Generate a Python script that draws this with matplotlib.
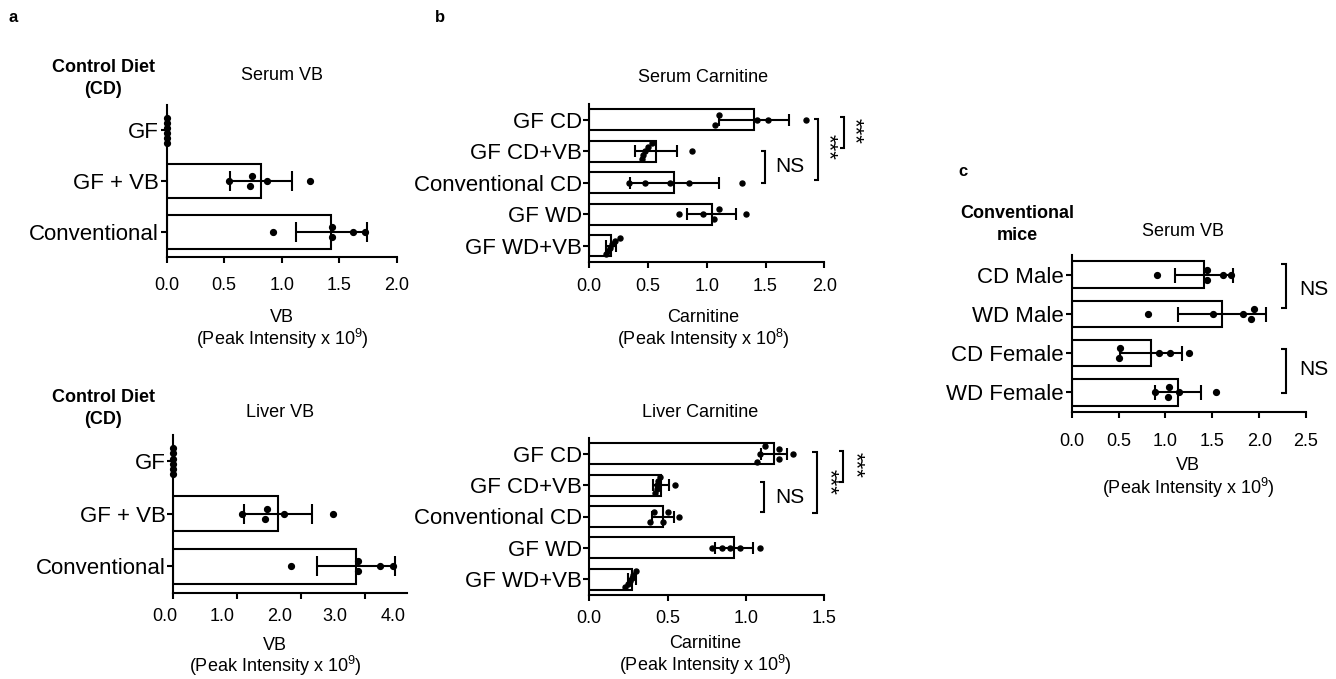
import matplotlib
matplotlib.use("Agg")
import matplotlib.pyplot as plt
import numpy as np
from matplotlib import transforms

plt.rcParams['font.family'] = ['Liberation Sans', 'DejaVu Sans']
plt.rcParams['mathtext.fontset'] = 'custom'
plt.rcParams['mathtext.rm'] = 'Liberation Sans'
plt.rcParams['mathtext.it'] = 'Liberation Sans:italic'
plt.rcParams['mathtext.bf'] = 'Liberation Sans:bold'

W, H, DPI = 1336, 679, 100

# ------------------------------------------------------------------ data
a_cats = ["GF", "GF + VB", "Conventional"]
serum_vb_points = [[0, 0, 0, 0, 0, 0],
                   [0.54, 0.72, 0.74, 0.87, 1.25],
                   [0.92, 1.44, 1.44, 1.62, 1.72]]
serum_vb_mean = [0, 0.82, 1.43]
serum_vb_sd = [0, 0.27, 0.31]

liver_vb_points = [[0, 0, 0, 0, 0, 0],
                   [1.07, 1.43, 1.47, 1.73, 2.50],
                   [1.84, 2.89, 2.89, 3.24, 3.44]]
liver_vb_mean = [0, 1.64, 2.85]
liver_vb_sd = [0, 0.53, 0.61]

b_cats = ["GF CD", "GF CD+VB", "Conventional CD", "GF WD", "GF WD+VB"]
serum_carn_points = [[1.07, 1.10, 1.43, 1.52, 1.84],
                     [0.45, 0.46, 0.47, 0.50, 0.53, 0.87],
                     [0.34, 0.47, 0.69, 0.85, 1.30],
                     [0.76, 0.97, 1.06, 1.10, 1.33],
                     [0.14, 0.16, 0.18, 0.19, 0.22, 0.26]]
serum_carn_mean = [1.40, 0.565, 0.725, 1.04, 0.185]
serum_carn_sd = [0.30, 0.18, 0.38, 0.21, 0.045]

liver_carn_points = [[1.07, 1.09, 1.12, 1.21, 1.21, 1.30],
                     [0.42, 0.43, 0.43, 0.44, 0.45, 0.55],
                     [0.39, 0.41, 0.47, 0.50, 0.57],
                     [0.78, 0.845, 0.90, 0.965, 1.09],
                     [0.23, 0.25, 0.26, 0.27, 0.28, 0.30]]
liver_carn_mean = [1.18, 0.456, 0.472, 0.923, 0.27]
liver_carn_sd = [0.085, 0.05, 0.07, 0.12, 0.025]

c_cats = ["CD Male", "WD Male", "CD Female", "WD Female"]
c_vb_points = [[0.905, 1.44, 1.44, 1.615, 1.70],
               [0.81, 1.51, 1.83, 1.91, 1.94],
               [0.51, 0.52, 0.93, 1.05, 1.25],
               [0.89, 1.03, 1.04, 1.14, 1.54]]
c_vb_mean = [1.41, 1.60, 0.85, 1.13]
c_vb_sd = [0.31, 0.47, 0.33, 0.245]

ticks_a_top = [0.0, 0.5, 1.0, 1.5, 2.0]
ticks_a_bot = [0, 1, 2, 3]
ticklabels_a_bot = ["0.0", "1.0", "2.0", "3.0", "4.0"]
ticks_b_top = [0.0, 0.5, 1.0, 1.5, 2.0]
ticks_b_bot = [0.0, 0.5, 1.0, 1.5]
ticks_c = [0.0, 0.5, 1.0, 1.5, 2.0, 2.5]

# ------------------------------------------------------------------ figure
fig = plt.figure(figsize=(W / DPI, H / DPI), dpi=DPI)


def axes_px(x0, y0, x1, y1):
    return fig.add_axes([x0 / W, 1 - y1 / H, (x1 - x0) / W, (y1 - y0) / H])


def ftext(x, y, s, **kw):
    kw.setdefault('ha', 'center')
    kw.setdefault('va', 'center')
    fig.text(x / W, 1 - y / H, s, **kw)


def swarm(vals, px_x, px_row, bar_px, step=10.0, thresh=6.0):
    vals = np.asarray(vals, float)
    order = np.argsort(vals, kind='stable')
    offs = np.zeros(len(vals))
    clusters = []
    cur = [order[0]]
    for k in order[1:]:
        if (vals[k] - vals[cur[-1]]) * px_x <= thresh:
            cur.append(k)
        else:
            clusters.append(cur)
            cur = [k]
    clusters.append(cur)
    maxspan = 0.75 * bar_px
    for cl in clusters:
        n = len(cl)
        if n == 1:
            continue
        s = min(step, maxspan / (n - 1))
        for i, k in enumerate(cl):
            offs[k] = ((n - 1) / 2 - i) * s / px_row
    return offs


def draw_panel(ax, cats, points, means, sds, xlim, capsize, ms, lw=1.5,
               bar_h=0.67):
    n = len(cats)
    y = np.arange(n)
    ax.barh(y, means, height=bar_h, color='white', edgecolor='black',
            linewidth=lw, zorder=2)
    ax.set_xlim(*xlim)
    ax.set_ylim(n - 0.5, -0.5)
    for i in range(n):
        if sds[i] > 0:
            ax.errorbar([means[i]], [y[i]], xerr=[sds[i]], fmt='none',
                        ecolor='black', elinewidth=lw, capsize=capsize,
                        capthick=lw, zorder=3)
    bbox = ax.get_position()
    wpx = bbox.width * W
    hpx = bbox.height * H
    px_x = wpx / (xlim[1] - xlim[0])
    px_row = hpx / n
    for i in range(n):
        offs = swarm(points[i], px_x, px_row, bar_h * px_row)
        ax.plot(points[i], y[i] + offs, 'o', color='black', ms=ms,
                mec='black', zorder=4, clip_on=False)
    ax.set_yticks(y)
    ax.set_yticklabels(cats, fontsize=16)
    for sp in ['top', 'right']:
        ax.spines[sp].set_visible(False)
    for sp in ['left', 'bottom']:
        ax.spines[sp].set_linewidth(lw)
    ax.tick_params(axis='both', direction='out', length=4.5, width=lw,
                   colors='black')
    ax.tick_params(axis='y', pad=1)
    ax.set_facecolor('none')


def bracket(ax, x, xt, y0, y1, lw=1.5):
    ax.plot([xt, x, x, xt], [y0, y0, y1, y1], color='black', lw=lw,
            clip_on=False, solid_capstyle='butt', solid_joinstyle='miter')


# ---- panel a top
ax1 = axes_px(166.7, 105, 396.7, 257)
draw_panel(ax1, a_cats, serum_vb_points, serum_vb_mean, serum_vb_sd,
           (0, 2.0), capsize=7, ms=4.2)
ax1.set_xticks(ticks_a_top)
ax1.set_xticklabels([f"{t:.1f}" for t in ticks_a_top], fontsize=13)
ax1.tick_params(axis='x', pad=10)

# ---- panel a bottom
ax2 = axes_px(173.3, 435, 406.7, 592.5)
draw_panel(ax2, a_cats, liver_vb_points, liver_vb_mean, liver_vb_sd,
           (0, 3.65), capsize=7, ms=4.2)
ax2.set_xticks(ticks_a_bot)
ax2.set_xticklabels([])
# tick labels sit where the original figure placed them (offset from ticks)
lab_pos = [-0.13, 0.756, 1.67, 2.53, 3.43]
tr = ax2.get_xaxis_transform() + transforms.ScaledTranslation(0, -24.2 / DPI, fig.dpi_scale_trans)
for xp, s in zip(lab_pos, ticklabels_a_bot):
    ax2.text(xp, 0, s, transform=tr, ha='center', va='center', fontsize=13,
             clip_on=False)

# ---- panel b top
ax3 = axes_px(589.3, 104, 824.3, 261.7)
draw_panel(ax3, b_cats, serum_carn_points, serum_carn_mean, serum_carn_sd,
           (0, 2.0), capsize=4, ms=3.6)
ax3.set_xticks(ticks_b_top)
ax3.set_xticklabels([f"{t:.1f}" for t in ticks_b_top], fontsize=13)
ax3.tick_params(axis='x', pad=7)
bracket(ax3, 1.495, 1.459, 1.0, 1.99)
ax3.text(1.58, 1.47, "NS", fontsize=15, ha='left', va='center', clip_on=False)
bracket(ax3, 1.949, 1.912, -0.03, 1.91)
ax3.text(2.034, 0.86, "***", fontsize=16, rotation=270, ha='center',
         va='center', clip_on=False)
bracket(ax3, 2.168, 2.134, -0.08, 0.9)
ax3.text(2.255, 0.34, "***", fontsize=16, rotation=270, ha='center',
         va='center', clip_on=False)

# ---- panel b bottom
ax4 = axes_px(589.3, 438, 824.3, 595)
draw_panel(ax4, b_cats, liver_carn_points, liver_carn_mean, liver_carn_sd,
           (0, 1.5), capsize=4, ms=3.6)
ax4.set_xticks(ticks_b_bot)
ax4.set_xticklabels([f"{t:.1f}" for t in ticks_b_bot], fontsize=13)
ax4.tick_params(axis='x', pad=6.5)
bracket(ax4, 1.117, 1.089, 0.9, 1.86)
ax4.text(1.185, 1.38, "NS", fontsize=15, ha='left', va='center', clip_on=False)
bracket(ax4, 1.451, 1.424, -0.05, 1.89)
ax4.text(1.53, 0.9, "***", fontsize=16, rotation=270, ha='center',
         va='center', clip_on=False)
bracket(ax4, 1.621, 1.594, -0.1, 0.9)
ax4.text(1.696, 0.37, "***", fontsize=16, rotation=270, ha='center',
         va='center', clip_on=False)

# ---- panel c
ax5 = axes_px(1071.7, 255, 1306, 412)
draw_panel(ax5, c_cats, c_vb_points, c_vb_mean, c_vb_sd,
           (0, 2.5), capsize=5.4, ms=4.2)
ax5.set_xticks(ticks_c)
ax5.set_xticklabels([f"{t:.1f}" for t in ticks_c], fontsize=13)
ax5.tick_params(axis='x', pad=10.5)
bracket(ax5, 2.282, 2.229, -0.26, 0.85)
ax5.text(2.43, 0.37, "NS", fontsize=15, ha='left', va='center', clip_on=False)
bracket(ax5, 2.282, 2.229, 1.9, 3.02)
ax5.text(2.43, 2.42, "NS", fontsize=15, ha='left', va='center', clip_on=False)

# ------------------------------------------------------------------ texts
ftext(13, 18, "a", fontsize=12, fontweight='bold')
ftext(440, 17, "b", fontsize=12, fontweight='bold')
ftext(963, 172, "c", fontsize=12, fontweight='bold')

ftext(103, 68, "Control Diet", fontsize=13, fontweight='bold')
ftext(103, 90, "(CD)", fontsize=13, fontweight='bold')
ftext(103, 398, "Control Diet", fontsize=13, fontweight='bold')
ftext(103, 420, "(CD)", fontsize=13, fontweight='bold')
ftext(1017, 213, "Conventional", fontsize=13, fontweight='bold')
ftext(1017, 235, "mice", fontsize=13, fontweight='bold')

ftext(282, 76, "Serum VB", fontsize=13)
ftext(280, 413, "Liver VB", fontsize=13)
ftext(703, 77, "Serum Carnitine", fontsize=13)
ftext(700, 413, "Liver Carnitine", fontsize=13)
ftext(1183, 231, "Serum VB", fontsize=13)

ftext(282, 317, "VB", fontsize=13)
ftext(282, 339, "(Peak Intensity x 10$^{9}$)", fontsize=13)
ftext(275, 646, "VB", fontsize=13)
ftext(275, 666, "(Peak Intensity x 10$^{9}$)", fontsize=13)
ftext(703, 317, "Carnitine", fontsize=13)
ftext(703, 339, "(Peak Intensity x 10$^{8}$)", fontsize=13)
ftext(705, 644, "Carnitine", fontsize=13)
ftext(705, 665, "(Peak Intensity x 10$^{9}$)", fontsize=13)
ftext(1188, 465, "VB", fontsize=13)
ftext(1188, 488, "(Peak Intensity x 10$^{9}$)", fontsize=13)

fig.savefig("out.png", dpi=DPI, facecolor='white')
